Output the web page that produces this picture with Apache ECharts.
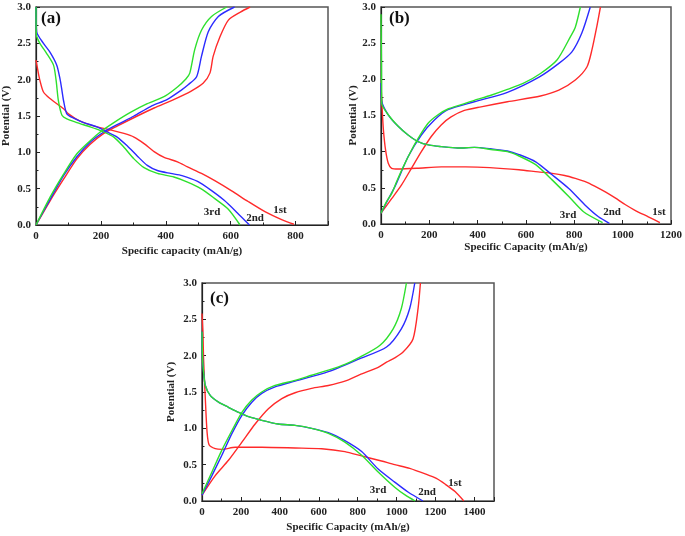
<!DOCTYPE html>
<html><head><meta charset="utf-8">
<script src="https://cdn.jsdelivr.net/npm/echarts@6/dist/echarts.min.js"></script>
<style>html,body{margin:0;padding:0;background:#fff}#c{width:685px;height:536px}</style>
</head><body><div id="c"></div>
<script>
// ---- Panel (a) ----
const a1Dis = [[0,2.27],[6,2.12],[12,1.99],[23,1.83],[43,1.74],[85,1.60],[100,1.53],[136,1.43],[188,1.35],[229,1.31],[271,1.26],[302,1.21],[333,1.12],[364,1.01],[395,0.93],[436,0.87],[467,0.80],[510,0.71],[551,0.61],[603,0.47],[655,0.32],[707,0.18],[759,0.07],[795,0.01]];
const a2Dis = [[0,3.0],[2,2.66],[23,2.50],[43,2.38],[64,2.20],[74,2.01],[80,1.85],[85,1.71],[95,1.53],[116,1.47],[147,1.41],[188,1.35],[219,1.28],[250,1.21],[281,1.09],[312,0.95],[343,0.82],[374,0.75],[415,0.71],[450,0.68],[498,0.60],[539,0.48],[580,0.34],[620,0.17],[658,0.0]];
const a3Dis = [[0,3.0],[1,2.62],[12,2.50],[33,2.36],[54,2.20],[62,1.99],[69,1.71],[80,1.51],[95,1.46],[126,1.41],[167,1.35],[198,1.30],[240,1.21],[271,1.07],[302,0.91],[333,0.79],[374,0.71],[425,0.66],[467,0.59],[508,0.50],[549,0.37],[592,0.22],[629,0.0]];
const a1Chg = [[0,0],[43,0.33],[85,0.63],[126,0.91],[167,1.11],[209,1.26],[250,1.36],[312,1.50],[364,1.61],[426,1.73],[477,1.84],[515,1.95],[536,2.09],[546,2.32],[567,2.59],[593,2.82],[630,2.93],[660,3.0]];
const a2Chg = [[0,0],[43,0.35],[85,0.68],[126,0.94],[167,1.14],[209,1.28],[250,1.38],[302,1.50],[353,1.63],[405,1.73],[446,1.85],[469,1.93],[495,2.04],[510,2.32],[531,2.66],[562,2.87],[612,3.0]];
const a3Chg = [[0,0],[43,0.38],[85,0.70],[126,0.98],[167,1.16],[198,1.28],[240,1.41],[291,1.55],[343,1.67],[396,1.77],[436,1.90],[462,2.01],[474,2.09],[489,2.41],[510,2.68],[541,2.87],[588,3.0]];
// ---- Panel (b) ----
const b1Dis = [[0,1.92],[5,1.58],[10,1.30],[19,1.02],[30,0.84],[44,0.77],[71,0.76],[150,0.77],[250,0.79],[350,0.79],[450,0.78],[571,0.75],[650,0.72],[708,0.70],[760,0.67],[804,0.63],[850,0.58],[886,0.52],[930,0.44],[969,0.36],[1010,0.27],[1051,0.19],[1106,0.10],[1154,0.02]];
const b2Dis = [[0,1.95],[3,1.70],[30,1.51],[71,1.35],[112,1.23],[153,1.14],[201,1.09],[249,1.07],[318,1.05],[386,1.06],[455,1.04],[523,1.01],[571,0.96],[640,0.86],[708,0.68],[777,0.49],[845,0.26],[900,0.10],[945,0.01]];
const b3Dis = [[0,2.9],[2,2.2],[3,1.67],[30,1.51],[71,1.35],[112,1.23],[153,1.14],[201,1.09],[249,1.07],[318,1.05],[386,1.06],[455,1.03],[523,1.00],[571,0.94],[640,0.82],[708,0.61],[777,0.38],[838,0.17],[917,0.02]];
const b1Chg = [[0,0.15],[44,0.35],[85,0.54],[126,0.77],[167,1.00],[208,1.21],[249,1.37],[290,1.48],[345,1.57],[414,1.62],[523,1.69],[660,1.77],[736,1.85],[804,1.99],[852,2.17],[873,2.41],[893,2.73],[908,3.0]];
const b2Chg = [[0,0.15],[20,0.28],[58,0.52],[112,0.93],[167,1.23],[222,1.44],[277,1.58],[386,1.69],[523,1.82],[654,2.03],[736,2.22],[790,2.38],[831,2.64],[866,3.0]];
const b3Chg = [[0,0.15],[23,0.31],[44,0.42],[64,0.58],[92,0.79],[126,1.02],[153,1.18],[194,1.39],[236,1.51],[277,1.59],[332,1.65],[386,1.71],[455,1.78],[523,1.86],[592,1.95],[660,2.08],[729,2.27],[784,2.59],[804,2.72],[825,3.0]];
// ---- Panel (c) ----
const c1Dis = [[0,2.58],[5,2.3],[8,1.96],[17,1.41],[26,0.95],[37,0.77],[68,0.72],[102,0.71],[171,0.74],[307,0.74],[478,0.73],[615,0.72],[734,0.68],[820,0.62],[922,0.55],[990,0.50],[1067,0.45],[1150,0.37],[1204,0.31],[1250,0.23],[1300,0.13],[1345,0.0]];
const c2Dis = [[0,2.33],[3,1.95],[8,1.78],[17,1.59],[43,1.45],[85,1.36],[136,1.29],[188,1.22],[239,1.16],[307,1.11],[392,1.06],[478,1.04],[563,1.00],[649,0.94],[734,0.83],[820,0.68],[905,0.44],[990,0.26],[1060,0.12],[1135,0.0]];
const c3Dis = [[0,2.33],[3,1.95],[8,1.78],[17,1.59],[43,1.45],[85,1.36],[136,1.29],[188,1.22],[239,1.16],[307,1.11],[392,1.06],[478,1.04],[563,1.00],[649,0.93],[734,0.81],[820,0.63],[905,0.40],[990,0.19],[1045,0.08],[1095,0.0]];
const c1Chg = [[0,0.08],[68,0.35],[136,0.56],[205,0.81],[273,1.06],[341,1.27],[410,1.41],[478,1.49],[563,1.55],[649,1.59],[734,1.65],[811,1.74],[905,1.84],[948,1.91],[990,1.97],[1033,2.05],[1084,2.23],[1110,2.65],[1122,3.0]];
const c2Chg = [[0,0.08],[51,0.35],[102,0.63],[154,0.93],[205,1.18],[256,1.36],[307,1.48],[375,1.57],[478,1.65],[649,1.78],[811,1.96],[948,2.12],[1024,2.37],[1067,2.65],[1093,3.0]];
const c3Chg = [[0,0.10],[51,0.40],[102,0.70],[154,0.97],[205,1.22],[256,1.39],[307,1.50],[375,1.59],[478,1.66],[563,1.73],[649,1.80],[734,1.88],[811,1.98],[913,2.14],[982,2.37],[1024,2.65],[1050,3.0]];

const xMax = [900, 1200, 1500];
const xTitles = ['Specific capacity (mAh/g)', 'Specific Capacity (mAh/g)', 'Specific Capacity (mAh/g)'];
const yTitle = 'Potential (V)';
const panelTags = ['(a)', '(b)', '(c)'];
const cycleNames = ['1st', '2nd', '3rd'];

const FONT = "'Liberation Serif','Times New Roman',serif";
const RED = '#ff2a2a', BLUE = '#2b2bff', GREEN = '#2ee02e';
const colors = [RED, BLUE, GREEN];

const grids = [
  {left: 36, top: 7, width: 292, height: 218},
  {left: 381, top: 7, width: 293, height: 217},
  {left: 202, top: 283, width: 292, height: 218}
];
const xNameGap = [21, 17, 21];
const yNameGap = [24, 22, 25];

const xAxes = [], yAxes = [];
grids.forEach((g, i) => {
  g.show = true; g.borderColor = '#555'; g.borderWidth = 1.5; g.containLabel = false;
  xAxes.push({
    type: 'value', gridIndex: i, min: 0, max: xMax[i], interval: 200,
    name: xTitles[i], nameLocation: 'middle', nameGap: xNameGap[i],
    nameTextStyle: {fontFamily: FONT, fontWeight: 'bold', fontSize: 11, color: '#222'},
    axisLine: {show: true, lineStyle: {color: '#222', width: 1.2}},
    axisTick: {show: true, inside: true, length: 4, lineStyle: {color: '#222'}},
    minorTick: {show: true, splitNumber: 2, length: 2.5, lineStyle: {color: '#222'}},
    axisLabel: {fontFamily: FONT, fontWeight: 'bold', fontSize: 11, color: '#222', margin: 6,
      showMaxLabel: xMax[i] % 200 === 0, formatter: v => String(Math.round(v))},
    splitLine: {show: false}
  });
  yAxes.push({
    type: 'value', gridIndex: i, min: 0, max: 3, interval: 0.5,
    name: yTitle, nameLocation: 'middle', nameGap: yNameGap[i], nameRotate: 90,
    nameTextStyle: {fontFamily: FONT, fontWeight: 'bold', fontSize: 11, color: '#222'},
    axisLine: {show: true, lineStyle: {color: '#222', width: 1.2}},
    axisTick: {show: true, inside: true, length: 4, lineStyle: {color: '#222'}},
    minorTick: {show: true, splitNumber: 2, length: 2.5, lineStyle: {color: '#222'}},
    axisLabel: {fontFamily: FONT, fontWeight: 'bold', fontSize: 11, color: '#222', margin: 5, formatter: v => v.toFixed(1)},
    splitLine: {show: false}
  });
});

const panels = [
  [[a1Dis, a1Chg], [a2Dis, a2Chg], [a3Dis, a3Chg]],
  [[b1Dis, b1Chg], [b2Dis, b2Chg], [b3Dis, b3Chg]],
  [[c1Dis, c1Chg], [c2Dis, c2Chg], [c3Dis, c3Chg]]
];
const series = [];
panels.forEach((cycles, p) => {
  cycles.forEach((pair, k) => {
    pair.forEach((d) => {
      series.push({
        type: 'line', xAxisIndex: p, yAxisIndex: p, data: d, name: cycleNames[k],
        showSymbol: false, smooth: 0.25, clip: true,
        lineStyle: {color: colors[k], width: 1.4}, itemStyle: {color: colors[k]},
        silent: true, animation: false, z: 2 + k
      });
    });
  });
});

const tagPos = [[41, 10], [389, 10], [210, 290]];
const cyclePos = [
  [[280, 210], [255, 218], [212, 212]],
  [[659, 212], [612, 212], [568, 215]],
  [[455, 483], [427, 492], [378, 490]]
];
const graphics = [];
tagPos.forEach((p, i) => graphics.push({type: 'text', left: p[0], top: p[1], style: {text: panelTags[i], font: "bold 17px " + FONT, fill: '#111'}}));
cyclePos.forEach(pp => pp.forEach((p, k) => graphics.push({type: 'text', x: p[0], y: p[1], style: {text: cycleNames[k], font: "bold 11px " + FONT, fill: '#222', textAlign: 'center', textVerticalAlign: 'middle'}})));

const chart = echarts.init(document.getElementById('c'), null, {renderer: 'canvas'});
chart.setOption({
  animation: false,
  backgroundColor: '#fff',
  grid: grids, xAxis: xAxes, yAxis: yAxes, series: series, graphic: graphics
});
</script></body></html>
